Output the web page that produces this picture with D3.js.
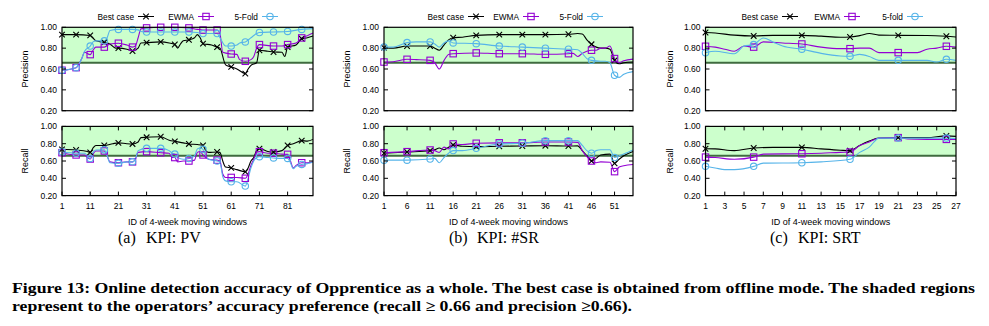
<!DOCTYPE html>
<html><head><meta charset="utf-8">
<script src="https://cdn.jsdelivr.net/npm/d3@7"></script>
<style>body{margin:0;background:#fff}svg{display:block}</style>
</head><body>
<script>
// ---------------- DATA ----------------
const seriesNames = ["Best case", "EWMA", "5-Fold"];
const seriesNamesC = ["Best case", "EWMA", "5-fold"];
const yTicks = [0.2, 0.4, 0.6, 0.8, 1.0];
const threshold = 0.66;
const pvTicks = [1, 11, 21, 31, 41, 51, 61, 71, 81];
const srTicks = [1, 6, 11, 16, 21, 26, 31, 36, 41, 46, 51];
const srtTicks = [1, 3, 5, 7, 9, 11, 13, 15, 17, 19, 21, 23, 25, 27];
const subTitles = [["(a)", "KPI: PV"], ["(b)", "KPI: #SR"], ["(c)", "KPI: SRT"]];
const xLabel = "ID of 4-week moving windows";
const captionLines = [
  "Figure 13: Online detection accuracy of Opprentice as a whole. The best case is obtained from offline mode. The shaded regions",
  "represent to the operators’ accuracy preference (recall ≥ 0.66 and precision ≥0.66)."
];

// [window id, value]
const pvPrecBest = [[1,.93],[6,.93],[11,.922],[13,.87],[16,.855],[18,.84],[20,.80],[21,.80],[24,.79],[26,.773],[28,.80],[29,.85],[31,.853],[36,.86],[39,.85],[41,.835],[42,.80],[43,.84],[44,.87],[46,.88],[48,.90],[49,.93],[50,.90],[51,.843],[54,.83],[56,.81],[57,.80],[59,.64],[61,.62],[63,.60],[66,.556],[67,.60],[68,.635],[70,.66],[71,.78],[74,.77],[76,.763],[79,.76],[80,.72],[81,.81],[84,.83],[86,.89],[88,.90],[90,.917]];
const pvPrecEwma = [[1,.588],[6,.613],[8,.70],[9,.76],[11,.738],[12,.78],[13,.81],[16,.81],[18,.84],[21,.847],[24,.83],[26,.81],[27,.82],[28,.90],[29,.985],[31,.994],[36,1.0],[41,1.0],[46,.994],[49,.98],[51,.974],[56,.974],[57,.94],[58,.76],[61,.744],[63,.74],[64,.69],[66,.674],[68,.69],[69,.72],[70,.80],[71,.834],[76,.82],[79,.82],[81,.834],[84,.85],[86,.898],[88,.92],[90,.945]];
const pvPrecFold = [[1,.588],[6,.613],[8,.70],[9,.77],[11,.82],[12,.86],[13,.87],[16,.87],[17,.90],[18,.97],[21,.98],[26,.98],[28,.975],[29,.96],[31,.955],[36,.955],[41,.955],[46,.955],[49,.95],[51,.94],[56,.94],[57,.90],[59,.82],[61,.82],[63,.83],[64,.85],[66,.86],[68,.90],[70,.94],[71,.95],[76,.955],[81,.96],[86,.98],[90,.987]];
const pvRecBest = [[1,.735],[6,.727],[10,.71],[11,.70],[12,.75],[13,.78],[16,.78],[19,.80],[21,.81],[24,.80],[26,.797],[28,.82],[29,.87],[31,.874],[36,.88],[39,.84],[41,.827],[44,.81],[46,.797],[49,.79],[51,.78],[52,.72],[53,.70],[56,.704],[57,.70],[58,.60],[59,.53],[61,.52],[63,.50],[66,.476],[67,.52],[68,.60],[69,.64],[70,.72],[71,.743],[74,.71],[76,.704],[79,.72],[81,.78],[83,.80],[86,.835],[88,.83],[90,.85]];
const pvRecEwma = [[1,.696],[6,.67],[9,.67],[10,.64],[11,.623],[12,.68],[13,.716],[16,.716],[17,.66],[18,.59],[21,.58],[24,.59],[26,.59],[27,.62],[28,.70],[31,.708],[36,.696],[39,.69],[40,.64],[41,.64],[42,.59],[44,.60],[46,.60],[48,.61],[49,.70],[50,.71],[51,.67],[52,.64],[53,.62],[56,.61],[57,.60],[58,.45],[59,.41],[61,.41],[63,.41],[66,.40],[67,.45],[68,.55],[69,.62],[70,.70],[71,.708],[74,.69],[76,.69],[79,.68],[81,.677],[82,.60],[83,.52],[84,.55],[86,.58],[88,.58],[90,.59]];
const pvRecFold = [[1,.707],[6,.69],[9,.69],[10,.66],[11,.63],[12,.70],[13,.727],[16,.73],[17,.66],[18,.58],[21,.573],[24,.59],[26,.59],[27,.62],[28,.72],[31,.746],[36,.746],[39,.72],[40,.69],[41,.68],[42,.64],[44,.62],[46,.63],[48,.66],[49,.74],[50,.75],[51,.735],[52,.66],[53,.62],[56,.60],[57,.59],[58,.42],[59,.37],[61,.36],[63,.36],[66,.31],[67,.40],[68,.52],[69,.60],[70,.64],[71,.65],[74,.64],[76,.635],[79,.63],[81,.63],[82,.58],[83,.51],[84,.54],[86,.56],[88,.57],[90,.585]];

const srPrecBest = [[1,.805],[3,.80],[6,.82],[8,.82],[11,.82],[12,.80],[13,.78],[14,.83],[15,.88],[16,.90],[18,.905],[21,.923],[26,.93],[31,.93],[36,.93],[41,.933],[43,.94],[44,.935],[45,.88],[46,.837],[48,.80],[49,.80],[50,.79],[51,.683],[52,.65],[53,.66],[55,.667]];
const srPrecEwma = [[1,.667],[3,.67],[6,.693],[8,.69],[11,.683],[12,.66],[13,.60],[14,.68],[15,.74],[16,.747],[21,.754],[26,.747],[31,.747],[36,.741],[41,.747],[42,.75],[43,.72],[44,.75],[45,.77],[46,.78],[47,.78],[48,.80],[49,.80],[50,.82],[51,.70],[52,.66],[53,.68],[55,.695]];
const srPrecFold = [[1,.81],[3,.81],[6,.853],[8,.86],[11,.86],[12,.84],[13,.81],[14,.85],[15,.87],[16,.85],[21,.843],[26,.82],[31,.81],[36,.80],[41,.79],[43,.785],[44,.75],[45,.70],[46,.683],[48,.675],[49,.675],[50,.66],[51,.54],[52,.52],[53,.55],[55,.575]];
const srRecBest = [[1,.69],[6,.704],[11,.72],[12,.73],[13,.75],[14,.73],[15,.76],[16,.785],[18,.77],[21,.766],[26,.77],[31,.773],[36,.777],[41,.773],[43,.775],[44,.72],[45,.66],[46,.60],[47,.63],[48,.67],[50,.68],[51,.573],[52,.62],[53,.66],[55,.71]];
const srRecEwma = [[1,.696],[6,.708],[11,.727],[12,.72],[13,.70],[14,.76],[15,.74],[16,.797],[18,.79],[21,.805],[26,.81],[31,.81],[36,.82],[41,.82],[43,.815],[44,.72],[45,.65],[46,.60],[47,.58],[48,.59],[50,.585],[51,.477],[52,.53],[53,.545],[55,.56]];
const srRecFold = [[1,.61],[6,.61],[11,.623],[12,.63],[13,.58],[14,.64],[15,.69],[16,.72],[18,.72],[21,.746],[26,.797],[31,.805],[36,.835],[41,.835],[43,.835],[44,.78],[45,.72],[46,.69],[47,.72],[48,.73],[50,.73],[51,.64],[52,.66],[53,.68],[55,.727]];

const srtPrecBest = [[1,.95],[2,.945],[4,.925],[6,.917],[8,.923],[11,.923],[13,.915],[15,.905],[16,.907],[17,.92],[18,.94],[19,.925],[21,.923],[24,.922],[26,.914],[27,.907]];
const srtPrecEwma = [[1,.818],[2,.81],[3,.79],[4,.77],[5,.82],[6,.81],[7,.86],[9,.85],[11,.84],[13,.81],[15,.795],[16,.795],[17,.80],[18,.80],[19,.757],[21,.757],[23,.757],[24,.79],[25,.80],[26,.818],[27,.81]];
const srtPrecFold = [[1,.757],[2,.77],[4,.747],[5,.82],[6,.834],[7,.898],[8,.86],[9,.82],[11,.79],[13,.75],[15,.725],[16,.722],[17,.74],[18,.72],[19,.683],[21,.683],[24,.683],[25,.667],[26,.693],[27,.683]];
const srtRecBest = [[1,.742],[2,.74],[4,.72],[6,.75],[8,.757],[11,.757],[13,.74],[15,.725],[16,.72],[17,.78],[18,.83],[19,.865],[21,.87],[24,.87],[26,.89],[27,.885]];
const srtRecEwma = [[1,.645],[2,.64],[4,.62],[6,.645],[7,.68],[11,.684],[13,.69],[15,.70],[16,.703],[17,.78],[18,.82],[19,.865],[21,.87],[22,.855],[24,.85],[26,.85],[27,.85]];
const srtRecFold = [[1,.538],[2,.52],[3,.50],[4,.50],[6,.538],[7,.575],[11,.58],[13,.59],[16,.62],[17,.70],[18,.76],[19,.865],[21,.865],[24,.865],[26,.865],[27,.86]];

// ---------------- LAYOUT ----------------
const colors = ["#000000", "#9400d3", "#56b4e9"];
const symbols = ["x", "square", "circle"];
const precY = [27.3, 110.7];
const recY = [126.4, 195.6];

const panels = [
  {x: [62, 313], domain: [1, 90], ticks: pvTicks, names: seriesNames,
   prec: [pvPrecBest, pvPrecEwma, pvPrecFold], rec: [pvRecBest, pvRecEwma, pvRecFold],
   legendEnds: [134, 194, 258], ylabX: 25, sub: [118, 146]},
  {x: [384, 633], domain: [1, 55], ticks: srTicks, names: seriesNames,
   prec: [srPrecBest, srPrecEwma, srPrecFold], rec: [srRecBest, srRecEwma, srRecFold],
   legendEnds: [464, 519, 583], ylabX: 347, sub: [449, 477]},
  {x: [705.5, 956], domain: [1, 27], ticks: srtTicks, names: seriesNamesC,
   prec: [srtPrecBest, srtPrecEwma, srtPrecFold], rec: [srtRecBest, srtRecEwma, srtRecFold],
   legendEnds: [778, 840, 903], ylabX: 670, sub: [770, 798]}
];

const svg = d3.select("body").append("svg").attr("width", 989).attr("height", 326)
  .style("font-family", "'Liberation Sans', Arial, sans-serif");

function drawMarker(g, type, cx, cy, color) {
  if (type === "x") {
    const s = 2.8;
    g.append("path").attr("d", `M${cx-s},${cy-s}L${cx+s},${cy+s}M${cx-s},${cy+s}L${cx+s},${cy-s}`)
      .attr("stroke", color).attr("stroke-width", 1.1).attr("fill", "none");
  } else if (type === "square") {
    g.append("rect").attr("x", cx-3.2).attr("y", cy-3.2).attr("width", 6.4).attr("height", 6.4)
      .attr("stroke", color).attr("stroke-width", 1.1).attr("fill", "none");
  } else {
    g.append("circle").attr("cx", cx).attr("cy", cy).attr("r", 3.2)
      .attr("stroke", color).attr("stroke-width", 1.1).attr("fill", "none");
  }
}

function drawPlot(p, yr, series, isRecall, label) {
  const x = d3.scaleLinear().domain(p.domain).range(p.x);
  const y = d3.scaleLinear().domain([0.2, 1.0]).range([yr[1], yr[0]]);
  const g = svg.append("g");
  // shaded preference region
  g.append("rect").attr("x", p.x[0]).attr("y", y(1.0)).attr("width", p.x[1]-p.x[0])
    .attr("height", y(threshold) - y(1.0)).attr("fill", "#ccffcc");
  g.append("line").attr("x1", p.x[0]).attr("x2", p.x[1]).attr("y1", y(threshold)).attr("y2", y(threshold))
    .attr("stroke", "#3f6b3f").attr("stroke-width", 2);

  const line = d3.line().x(d => x(d[0])).y(d => y(d[1])).curve(d3.curveMonotoneX);
  series.forEach((s, i) => {
    g.append("path").datum(s).attr("d", line).attr("fill", "none")
      .attr("stroke", colors[i]).attr("stroke-width", 1.1);
  });
  series.forEach((s, i) => {
    s.filter(d => (d[0] - 1) % 5 === 0).forEach(d => drawMarker(g, symbols[i], x(d[0]), y(d[1]), colors[i]));
  });

  // y axis ticks (inward, mirrored)
  yTicks.forEach(t => {
    g.append("line").attr("x1", p.x[0]).attr("x2", p.x[0]+4).attr("y1", y(t)).attr("y2", y(t)).attr("stroke", "#000");
    g.append("line").attr("x1", p.x[1]).attr("x2", p.x[1]-4).attr("y1", y(t)).attr("y2", y(t)).attr("stroke", "#000");
    g.append("text").attr("x", p.x[0]-5).attr("y", y(t)+3).attr("text-anchor", "end")
      .attr("font-size", 8.5).attr("fill", "#000").text(d3.format(".2f")(t));
  });
  if (isRecall) {
    p.ticks.forEach(t => {
      g.append("line").attr("x1", x(t)).attr("x2", x(t)).attr("y1", yr[1]).attr("y2", yr[1]-4).attr("stroke", "#000");
      g.append("line").attr("x1", x(t)).attr("x2", x(t)).attr("y1", yr[0]).attr("y2", yr[0]+4).attr("stroke", "#000");
      g.append("text").attr("x", x(t)).attr("y", yr[1]+13).attr("text-anchor", "middle")
        .attr("font-size", 8.5).attr("fill", "#000").text(t);
    });
    g.append("text").attr("x", (p.x[0]+p.x[1])/2).attr("y", 225).attr("text-anchor", "middle")
      .attr("font-size", 9).text(xLabel);
  }
  // frame
  g.append("rect").attr("x", p.x[0]).attr("y", yr[0]).attr("width", p.x[1]-p.x[0]).attr("height", yr[1]-yr[0])
    .attr("fill", "none").attr("stroke", "#000").attr("stroke-width", 1.2);
  // y label
  const cy = (yr[0]+yr[1])/2;
  g.append("text").attr("transform", `translate(${p.ylabX+3},${cy}) rotate(-90)`)
    .attr("text-anchor", "middle").attr("font-size", 9).text(label);
}

panels.forEach((p, pi) => {
  drawPlot(p, precY, p.prec, false, "Precision");
  drawPlot(p, recY, p.rec, true, "Recall");
  // legend
  p.names.forEach((n, i) => {
    const T = p.legendEnds[i];
    svg.append("text").attr("x", T).attr("y", 19.5).attr("text-anchor", "end").attr("font-size", 8.3).text(n);
    svg.append("line").attr("x1", T+4).attr("x2", T+20).attr("y1", 16.5).attr("y2", 16.5)
      .attr("stroke", colors[i]).attr("stroke-width", 1);
    drawMarker(svg, symbols[i], T+12, 16.5, colors[i]);
  });
  // subcaption
  svg.append("text").attr("x", p.sub[0]).attr("y", 243).attr("font-family", "'Liberation Serif', 'Times New Roman', serif")
    .attr("font-size", 16).text(subTitles[pi][0]);
  svg.append("text").attr("x", p.sub[1]).attr("y", 243).attr("font-family", "'Liberation Serif', 'Times New Roman', serif")
    .attr("font-size", 16).text(subTitles[pi][1]);
});

// figure caption
svg.append("text").attr("x", 12).attr("y", 293).attr("font-family", "'Liberation Serif', 'Times New Roman', serif")
  .attr("font-weight", "bold").attr("font-size", 15).attr("textLength", 963).attr("lengthAdjust", "spacingAndGlyphs")
  .text(captionLines[0]);
svg.append("text").attr("x", 12).attr("y", 311).attr("font-family", "'Liberation Serif', 'Times New Roman', serif")
  .attr("font-weight", "bold").attr("font-size", 15).attr("textLength", 620).attr("lengthAdjust", "spacingAndGlyphs")
  .text(captionLines[1]);
</script>
</body></html>
